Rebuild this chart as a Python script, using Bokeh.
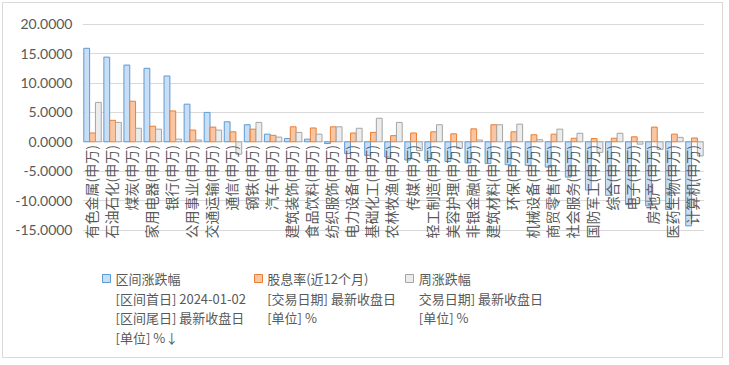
import math
import numpy as np
from bokeh.plotting import figure
from bokeh.models import Range1d, FixedTicker, NumeralTickFormatter, ColumnDataSource
from bokeh.core.properties import value
from bokeh.embed import file_html
from bokeh.resources import INLINE

# ---------------- data ----------------
categories = ["有色金属(申万)", "石油石化(申万)", "煤炭(申万)", "家用电器(申万)", "银行(申万)",
              "公用事业(申万)", "交通运输(申万)", "通信(申万)", "钢铁(申万)", "汽车(申万)",
              "建筑装饰(申万)", "食品饮料(申万)", "纺织服饰(申万)", "电力设备(申万)", "基础化工(申万)",
              "农林牧渔(申万)", "传媒(申万)", "轻工制造(申万)", "美容护理(申万)", "非银金融(申万)",
              "建筑材料(申万)", "环保(申万)", "机械设备(申万)", "商贸零售(申万)", "社会服务(申万)",
              "国防军工(申万)", "综合(申万)", "电子(申万)", "房地产(申万)", "医药生物(申万)",
              "计算机(申万)"]
interval_change = [15.9, 14.4, 13.05, 12.5, 11.2, 6.4, 5.0, 3.4, 2.9, 1.3,
                   0.55, 0.45, -0.3, -2.0, -2.3, -2.6, -3.1, -3.2, -3.35, -3.6,
                   -3.7, -3.9, -4.0, -4.3, -6.0, -8.2, -9.1, -10.7, -10.9, -11.5,
                   -14.3]
dividend_yield = [1.5, 3.65, 6.9, 2.65, 5.25, 2.0, 2.5, 1.7, 2.15, 1.1,
                  2.55, 2.35, 2.55, 1.5, 1.6, 1.05, 1.5, 1.7, 1.35, 2.2,
                  2.9, 1.7, 1.2, 1.3, 0.6, 0.55, 0.6, 0.85, 2.5, 1.3,
                  0.65]
weekly_change = [6.7, 3.3, 2.3, 2.15, 0.45, 0.3, 2.0, -2.1, 3.3, 0.8,
                 1.6, 1.3, 2.55, 2.3, 4.0, 3.3, -1.5, 2.9, -1.1, 0.3,
                 2.9, 3.0, 0.35, 2.15, 1.45, -1.8, 1.45, -0.4, -1.3, 0.75,
                 -2.4]
y_ticks = [-15, -10, -5, 0, 5, 10, 15, 20]
legend_lines = [
    ["区间涨跌幅", "[区间首日] 2024-01-02", "[区间尾日] 最新收盘日", "[单位] %↓"],
    ["股息率(近12个月)", "[交易日期] 最新收盘日", "[单位] %"],
    ["周涨跌幅", "交易日期] 最新收盘日", "[单位] %"],
]

# ---------------- layout helpers ----------------
W, H = 721, 356
FL, FR = 79, 20                # frame borders (canvas px)
Y0 = 138.3                     # canvas y of value 0
PPU = 5.88                     # px per unit
YT = Y0 / PPU
YB = -(H - Y0) / PPU
CATW = (W - FL - FR) / len(categories)


def dx(cx):
    return (cx - FL) / CATW - 0.5


def dy(cy):
    return (Y0 - cy) / PPU


FONT = "Noto Sans CJK SC"
GRAY_TXT = "#595959"
series_style = [
    ("#c9def4", "#5b9bd5"),
    ("#f8c6a2", "#ed7d31"),
    ("#ececec", "#a5a5a5"),
]

p = figure(width=W, height=H, output_backend="svg", toolbar_location=None,
           x_range=Range1d(-0.5, len(categories) - 0.5), y_range=Range1d(YB, YT),
           x_axis_location=None,
           min_border_left=FL, min_border_right=FR, min_border_top=0, min_border_bottom=0,
           outline_line_color=None, background_fill_color="white", border_fill_color="white",
           styles={"border": "1px solid #d9d9d9", "margin": "2px 0 0 2px"})

p.yaxis.ticker = FixedTicker(ticks=y_ticks)
p.yaxis.formatter = NumeralTickFormatter(format="0.0000")
p.yaxis.axis_line_color = None
p.yaxis.major_tick_line_color = None
p.yaxis.minor_tick_line_color = None
p.yaxis.major_tick_out = 0
p.yaxis.major_label_standoff = 10
p.yaxis.major_label_text_font = "Lato"
p.yaxis.major_label_text_font_size = "14px"
p.yaxis.major_label_text_color = GRAY_TXT
p.ygrid.grid_line_color = "#d9d9d9"
p.xgrid.visible = False

idx = np.arange(len(categories))
bw = 0.29
for off, vals, (fc, lc) in zip([-bw, 0.0, bw], [interval_change, dividend_yield, weekly_change], series_style):
    src = ColumnDataSource(dict(x=idx + off, top=vals))
    p.vbar(x="x", top="top", bottom=0, width=bw, source=src,
           fill_color=fc, line_color=lc, line_width=1)

# category labels along the zero line (rotated)
lab_src = ColumnDataSource(dict(x=idx - 0.1, y=[dy(141.5)] * len(categories), t=categories))
p.text(x="x", y="y", text="t", source=lab_src, angle=math.pi / 2,
       text_align="right", text_baseline="middle",
       text_font=value(FONT), text_font_size="14px", text_color=GRAY_TXT)

# legend
sq_x = [103, 255, 406]
txt_x = [112, 263.7, 415.3]
line_y = [275.3, 295.3, 314.3, 333.7]
for k in range(3):
    fc, lc = series_style[k]
    p.rect(x=[dx(sq_x[k])], y=[dy(275)], width=8, height=8,
           width_units="screen", height_units="screen",
           fill_color=fc, line_color=lc, line_width=1)
    lines = legend_lines[k]
    p.text(x=[dx(txt_x[k])] * len(lines), y=[dy(v) for v in line_y[:len(lines)]], text=lines,
           text_align="left", text_baseline="middle",
           text_font=value(FONT), text_font_size="13px", text_color=GRAY_TXT)

open("out.html", "w").write(file_html(p, INLINE))
